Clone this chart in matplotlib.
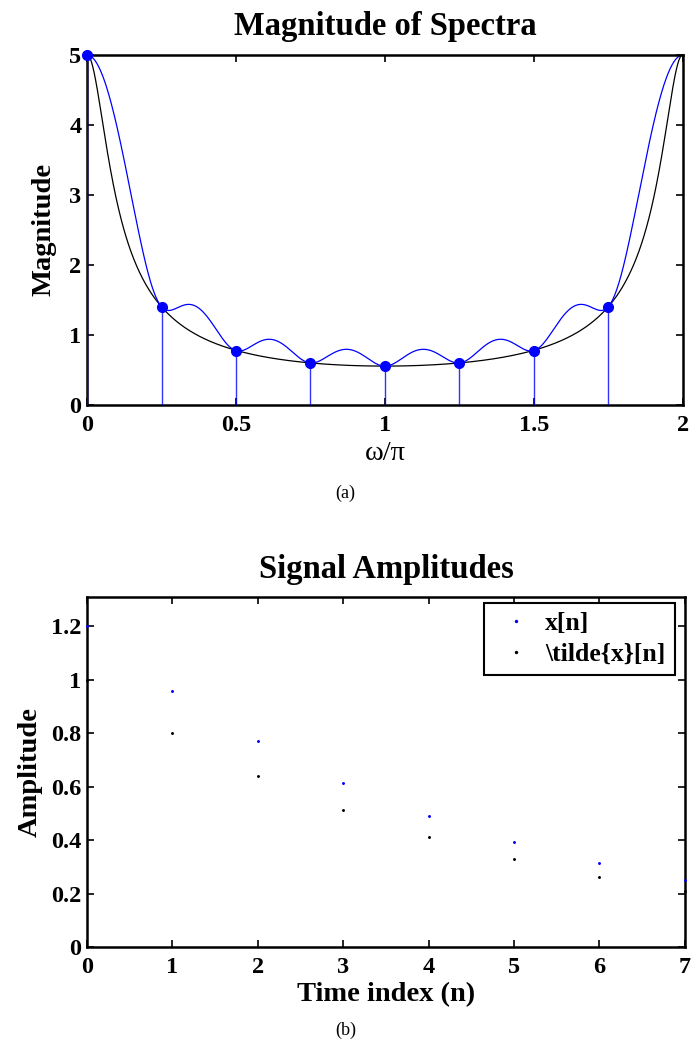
import numpy as np
import matplotlib
matplotlib.use("Agg")
import matplotlib.pyplot as plt

plt.rcParams["font.family"] = ["Liberation Serif", "DejaVu Serif"]
plt.rcParams["mathtext.fontset"] = "stix"

# signal values
n_idx = [0, 1, 2, 3, 4, 5, 6, 7]
x_n = [1.2, 0.96, 0.77, 0.615, 0.49, 0.393, 0.315, 0.252]
x_tilde = [1.0, 0.8, 0.64, 0.512, 0.41, 0.328, 0.262, 0.21]
decay = 0.8  # ratio between successive samples of x~[n]

x_ticks_a = [0, 0.5, 1, 1.5, 2]
y_ticks_a = [0, 1, 2, 3, 4, 5]
y_ticks_b = [0, 0.2, 0.4, 0.6, 0.8, 1, 1.2]

# spectra
w = np.linspace(0, 2, 1201)
X_true = np.abs(1.0 / (1 - decay * np.exp(-1j * np.pi * w)))
X_trunc = np.abs(np.array([np.sum(np.array(x_n) * np.exp(-1j * np.pi * wi * np.array(n_idx))) for wi in w]))
wk = np.array(n_idx) * 2.0 / len(n_idx)
Xk = np.abs(np.fft.fft(x_n))

fig = plt.figure(figsize=(6.91, 10.52), dpi=100)
ax1 = fig.add_axes([0.126, 0.615, 0.862, 0.333])
ax2 = fig.add_axes([0.126, 0.0998, 0.865, 0.3327])

tick_font = dict(fontsize=17.5, fontweight="bold")
lab_size = 20.5

ax1.plot(w, X_true, color="black", lw=0.9)
ax1.plot(w, X_trunc, color="blue", lw=0.9)
ax1.vlines(wk, 0, Xk, color="blue", lw=1.0, zorder=3, alpha=0.8)
ax1.plot(wk, Xk, "o", color="blue", ms=7, clip_on=False, zorder=5)
ax1.set_xlim(0, 2)
ax1.set_ylim(0, 5)
ax1.set_xticks(x_ticks_a)
ax1.set_xticklabels(["0", "0.5", "1", "1.5", "2"], **tick_font)
ax1.set_yticks(y_ticks_a)
ax1.set_yticklabels([str(v) for v in y_ticks_a], **tick_font)
ax1.set_title("Magnitude of Spectra", fontsize=23.5, fontweight="bold", pad=14)
ax1.set_ylabel("Magnitude", fontsize=lab_size, fontweight="bold", labelpad=9)
ax1.set_xlabel("ω/π", fontsize=lab_size, labelpad=4)

ax2.plot(n_idx, x_n, ".", color="blue", ms=2.2, clip_on=False, zorder=5, label="x[n]")
ax2.plot(n_idx, x_tilde, ".", color="black", ms=2.2, clip_on=False, zorder=5, label="\\tilde{x}[n]")
ax2.set_xlim(0, 7)
ax2.set_ylim(0, 1.31)
ax2.set_xticks(n_idx)
ax2.set_xticklabels([str(v) for v in n_idx], **tick_font)
ax2.set_yticks(y_ticks_b)
ax2.set_yticklabels(["0", "0.2", "0.4", "0.6", "0.8", "1", "1.2"], **tick_font)
ax2.set_title("Signal Amplitudes", fontsize=23.5, fontweight="bold", pad=14)
ax2.set_ylabel("Amplitude", fontsize=lab_size, fontweight="bold", labelpad=6)
ax2.set_xlabel("Time index (n)", fontsize=lab_size, fontweight="bold", labelpad=3)
leg = ax2.legend(loc="upper right", bbox_to_anchor=(0.983, 0.983), borderaxespad=0,
                 prop=dict(size=18.5, weight="bold"), fancybox=False,
                 edgecolor="black", framealpha=1, markerscale=1.3,
                 handlelength=1.85, handletextpad=0.2, borderpad=0.35, labelspacing=0.3)
leg.get_frame().set_linewidth(1.5)

for ax in (ax1, ax2):
    for s in ax.spines.values():
        s.set_linewidth(1.8)
    ax.tick_params(direction="in", top=True, right=True, width=1.2, length=5)
    ax.tick_params(axis="x", pad=7)
    ax.tick_params(axis="y", pad=4)

fig.text(0.5, 1 - 493 / 1052, "(a)", ha="center", va="center", fontsize=13)
fig.text(0.5, 1 - 1030 / 1052, "(b)", ha="center", va="center", fontsize=13)

fig.savefig("out.png", dpi=100)
